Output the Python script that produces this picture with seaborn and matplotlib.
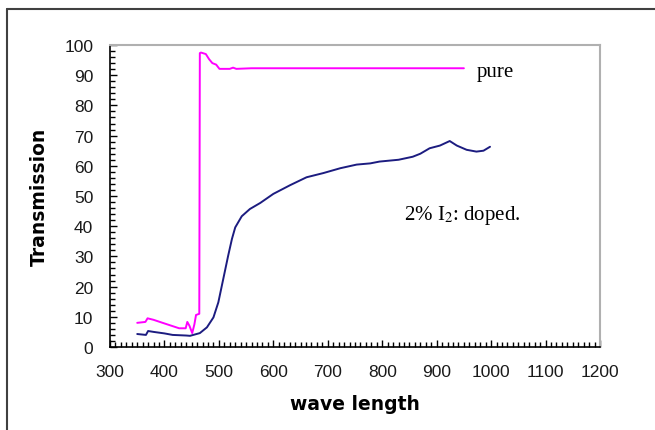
import matplotlib
matplotlib.use("Agg")
import matplotlib.pyplot as plt
from matplotlib.lines import Line2D
from matplotlib.ticker import MultipleLocator
import pandas as pd
import seaborn as sns

# pure sample (magenta)
pure_wl = [350, 365, 369, 380, 400, 427, 439, 442, 446, 451, 455, 458, 464, 465,
           467, 476, 482, 488, 495, 501, 520, 526, 532, 560, 950]
pure_tr = [8.0, 8.3, 9.5, 9.0, 7.8, 6.2, 6.2, 8.3, 7.0, 4.6, 7.5, 10.6, 11.0, 97.3,
           97.5, 97.0, 95.3, 94.0, 93.5, 92.1, 92.1, 92.5, 92.1, 92.3, 92.3]

# 2% I2 doped sample (navy)
doped_wl = [350, 366, 370, 380, 400, 415, 440, 447, 465, 478, 490, 499, 508, 517,
            524, 530, 542, 557, 576, 600, 631, 661, 692, 723, 753, 778, 795, 830,
            856, 870, 887, 906, 924, 937, 955, 973, 986, 998]
doped_tr = [4.3, 4.0, 5.3, 5.0, 4.5, 4.0, 3.8, 3.7, 4.6, 6.5, 9.8, 14.8, 22.5, 30.2,
            35.8, 39.6, 43.3, 45.7, 47.7, 50.7, 53.6, 56.2, 57.6, 59.2, 60.4, 60.8, 61.4, 62.0,
            63.0, 64.0, 65.8, 66.7, 68.2, 66.7, 65.3, 64.7, 65.0, 66.3]

x_ticks = [300, 400, 500, 600, 700, 800, 900, 1000, 1100, 1200]
y_ticks = [0, 10, 20, 30, 40, 50, 60, 70, 80, 90, 100]

sns.set_style("white")
plt.rcParams["font.family"] = ["Liberation Sans", "DejaVu Sans"]
plt.rcParams["mathtext.fontset"] = "stix"
plt.rcParams["text.color"] = "black"

pure = pd.DataFrame({"wl": pure_wl, "tr": pure_tr})
doped = pd.DataFrame({"wl": doped_wl, "tr": doped_tr})

fig = plt.figure(figsize=(6.55, 4.31), dpi=100)
ax = fig.add_axes([110/655, 83/431, 490/655, 302/431])

sns.lineplot(data=pure, x="wl", y="tr", color="#ff00ff", lw=1.4, ax=ax, sort=False)
sns.lineplot(data=doped, x="wl", y="tr", color="#1c1c80", lw=1.4, ax=ax, sort=False)

ax.set_xlim(300, 1200)
ax.set_ylim(0, 100)
ax.set_xticks(x_ticks)
ax.set_yticks(y_ticks)
ax.xaxis.set_minor_locator(MultipleLocator(10))
ax.yaxis.set_minor_locator(MultipleLocator(2))
ax.tick_params(which="both", direction="in", bottom=True, left=True, color="black", width=1)
ax.tick_params(which="major", length=5)
ax.tick_params(which="minor", length=3.5)
ax.tick_params(axis="x", labelsize=12.5, pad=12, labelcolor="#1a1a1a")
ax.tick_params(axis="y", labelsize=12.5, pad=12, labelcolor="#1a1a1a")

for s in ["top", "right"]:
    ax.spines[s].set_color("#b0b0b0")
    ax.spines[s].set_linewidth(1.5)
for s in ["left", "bottom"]:
    ax.spines[s].set_color("black")
    ax.spines[s].set_linewidth(1.2)

ax.set_xlabel("wave length", fontsize=13.5, fontweight="bold", family="DejaVu Sans", color="black")
ax.set_ylabel("Transmission", fontsize=13.5, fontweight="bold", family="DejaVu Sans", color="black")
ax.xaxis.label.set_va("center")
ax.yaxis.label.set_va("center")
ax.xaxis.set_label_coords(0.5, (348 - 405) / 302)
ax.yaxis.set_label_coords((39 - 110) / 490, 0.5)

ax.text(973, 91.3, "pure", fontsize=15, family="Liberation Serif", va="center", ha="left")
ax.text(840, 44, "2% I$_2$: doped.", fontsize=15, family="Liberation Serif", va="center", ha="left")

# outer chart frame (cut off at right and bottom)
fig.add_artist(Line2D([7/655, 7/655], [0, 1 - 10/431], transform=fig.transFigure, color="#404040", lw=1.5))
fig.add_artist(Line2D([7/655, 1], [1 - 10/431, 1 - 10/431], transform=fig.transFigure, color="#404040", lw=1.5))

fig.savefig("out.png", dpi=100)
